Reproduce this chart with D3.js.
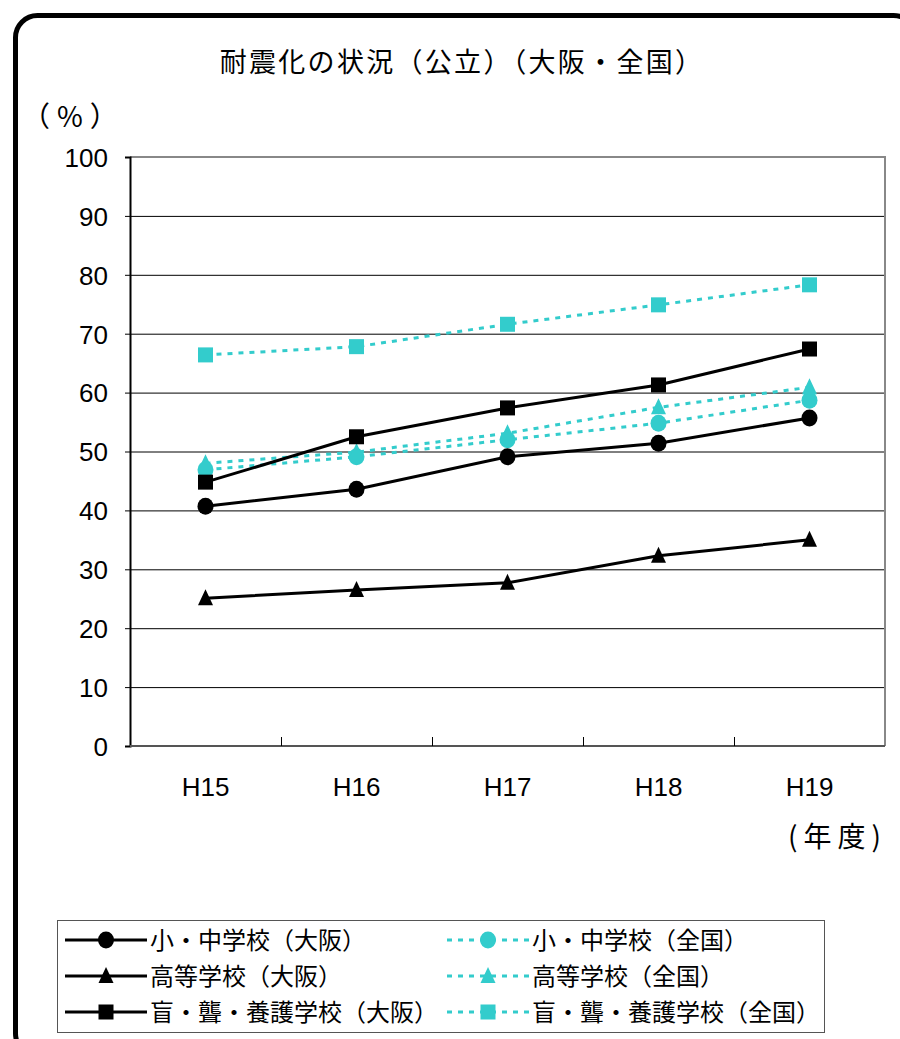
<!DOCTYPE html>
<html>
<head>
<meta charset="utf-8">
<script src="https://cdn.jsdelivr.net/npm/d3@7/dist/d3.min.js"></script>
<style>
  body { margin: 0; background: #fff; }
  svg { display: block; }
  text { font-family: "Liberation Sans", Arial, sans-serif; fill: #000; }
  .jp { font-family: "Noto Sans CJK JP", sans-serif; }
</style>
</head>
<body>
<svg id="chart" width="900" height="1039"></svg>
<script>
// data
var years = ['H15', 'H16', 'H17', 'H18', 'H19']
var yTicks = [0, 10, 20, 30, 40, 50, 60, 70, 80, 90, 100]

var osakaElem = [40.7, 43.6, 49.1, 51.4, 55.7]
var osakaHigh = [25.1, 26.5, 27.7, 32.3, 35.0]
var osakaSpecial = [44.8, 52.5, 57.4, 61.3, 67.4]
var nationElem = [46.9, 49.1, 52.0, 54.8, 58.7]
var nationHigh = [48.0, 49.9, 53.1, 57.5, 60.9]
var nationSpecial = [66.4, 67.8, 71.6, 74.9, 78.3]

var seriesNames = [
    '小・中学校（大阪）', '高等学校（大阪）', '盲・聾・養護学校（大阪）',
    '小・中学校（全国）', '高等学校（全国）', '盲・聾・養護学校（全国）'
]

var cyan = '#33cccc'
var series = [
    { name: seriesNames[0], values: osakaElem, color: '#000', shape: 'circle', dotted: false },
    { name: seriesNames[1], values: osakaHigh, color: '#000', shape: 'triangle', dotted: false },
    { name: seriesNames[2], values: osakaSpecial, color: '#000', shape: 'square', dotted: false },
    { name: seriesNames[3], values: nationElem, color: cyan, shape: 'circle', dotted: true },
    { name: seriesNames[4], values: nationHigh, color: cyan, shape: 'triangle', dotted: true },
    { name: seriesNames[5], values: nationSpecial, color: cyan, shape: 'square', dotted: true }
]

var svg = d3.select('#chart')

// rounded outer frame (runs off the right and bottom edges)
svg.append('rect')
    .attr('x', 15.5).attr('y', 15.5)
    .attr('width', 900).attr('height', 1040)
    .attr('rx', 22)
    .attr('fill', 'none')
    .attr('stroke', '#000')
    .attr('stroke-width', 5)

var plot = { left: 130, right: 885, top: 157, bottom: 746 }

var x = d3.scaleBand().domain(years).range([plot.left, plot.right])
var y = d3.scaleLinear().domain([0, 100]).range([plot.bottom, plot.top])

svg.append('text')
    .attr('class', 'jp')
    .attr('x', 462).attr('y', 72)
    .attr('text-anchor', 'middle')
    .style('font-size', '27px')
    .style('letter-spacing', '2.3px')
    .text('耐震化の状況（公立）（大阪・全国）')

svg.append('text')
    .attr('class', 'jp')
    .attr('x', 22).attr('y', 127)
    .style('font-size', '28px')
    .style('letter-spacing', '7px')
    .text('（%）')

// horizontal grid
svg.append('g')
    .selectAll('line')
    .data(yTicks.filter(function(d) { return d > 0 && d < 100 }))
    .enter().append('line')
    .attr('x1', plot.left).attr('x2', plot.right)
    .attr('y1', function(d) { return y(d) + 0.5 })
    .attr('y2', function(d) { return y(d) + 0.5 })
    .attr('stroke', '#000')
    .attr('stroke-width', 1)

// plot border: top and right in grey
svg.append('path')
    .attr('d', 'M' + plot.left + ',' + plot.top + 'H' + plot.right + 'V' + plot.bottom)
    .attr('fill', 'none')
    .attr('stroke', '#888')
    .attr('stroke-width', 2)

// y axis
var yAxis = svg.append('g')
    .attr('transform', 'translate(' + plot.left + ',0)')
    .call(d3.axisLeft(y).tickValues(yTicks).tickSize(5).tickPadding(17))
yAxis.select('.domain').attr('stroke', '#000').attr('stroke-width', 2)
yAxis.selectAll('.tick line').attr('stroke', '#000')
yAxis.selectAll('text')
    .style('font-size', '26px')
    .style('font-family', '"Liberation Sans", Arial, sans-serif')
    .attr('dy', '0.36em')

// x axis with ticks between categories pointing up
var xAxisG = svg.append('g')
    .attr('transform', 'translate(0,' + plot.bottom + ')')
xAxisG.append('line')
    .attr('x1', plot.left).attr('x2', plot.right)
    .attr('stroke', '#555').attr('stroke-width', 2)
xAxisG.selectAll('line.sep')
    .data(years.slice(1))
    .enter().append('line')
    .attr('class', 'sep')
    .attr('x1', function(d) { return x(d) + 0.5 })
    .attr('x2', function(d) { return x(d) + 0.5 })
    .attr('y1', 0).attr('y2', -9)
    .attr('stroke', '#000')
xAxisG.selectAll('text')
    .data(years)
    .enter().append('text')
    .attr('x', function(d) { return x(d) + x.bandwidth() / 2 })
    .attr('y', 50)
    .attr('text-anchor', 'middle')
    .style('font-size', '26px')
    .text(function(d) { return d })

svg.append('text')
    .attr('class', 'jp')
    .attr('x', 788).attr('y', 847)
    .style('font-size', '28px')
    .style('letter-spacing', '6px')
    .text('(年度)')

function cx(d, i) { return x(years[i]) + x.bandwidth() / 2 }

function drawMarker(sel, shape, color) {
    if (shape === 'circle')
        sel.append('ellipse').attr('rx', 8).attr('ry', 8.5).attr('fill', color)
    else if (shape === 'square')
        sel.append('rect').attr('x', -7.5).attr('y', -7.5).attr('width', 15).attr('height', 15).attr('fill', color)
    else
        sel.append('path').attr('d', 'M0,-9L7.5,7L-7.5,7Z').attr('fill', color)
}

var line = d3.line()
    .x(cx)
    .y(function(d) { return y(d) })

// nationwide (dotted) lines drawn first, then Osaka
var order = [3, 4, 5, 0, 1, 2]
order.forEach(function(k) {
    var s = series[k]
    var g = svg.append('g')
    g.append('path')
        .datum(s.values)
        .attr('d', line)
        .attr('fill', 'none')
        .attr('stroke', s.color)
        .attr('stroke-width', 3)
        .attr('stroke-dasharray', s.dotted ? '5,6' : null)
    g.selectAll('g.pt')
        .data(s.values)
        .enter().append('g')
        .attr('class', 'pt')
        .attr('transform', function(d, i) { return 'translate(' + cx(d, i) + ',' + y(d) + ')' })
        .each(function() { drawMarker(d3.select(this), s.shape, s.color) })
})

// legend
var legend = svg.append('g')
legend.append('rect')
    .attr('x', 57.5).attr('y', 920.5)
    .attr('width', 767).attr('height', 112)
    .attr('fill', '#fff')
    .attr('stroke', '#555')
    .attr('stroke-width', 1)

var rowY = [940, 976, 1012]
series.forEach(function(s, k) {
    var col = k < 3 ? 0 : 1
    var row = k % 3
    var x0 = col === 0 ? 65 : 447
    var item = legend.append('g').attr('transform', 'translate(' + x0 + ',' + rowY[row] + ')')
    item.append('line')
        .attr('x1', 0).attr('x2', 82)
        .attr('stroke', s.color)
        .attr('stroke-width', 3)
        .attr('stroke-dasharray', s.dotted ? '5,6' : null)
    var m = item.append('g').attr('transform', 'translate(41,0)')
    drawMarker(m, s.shape, s.color)
    item.append('text')
        .attr('class', 'jp')
        .attr('x', 85).attr('y', 9)
        .style('font-size', '24px')
        .text(s.name)
})
</script>
</body>
</html>
